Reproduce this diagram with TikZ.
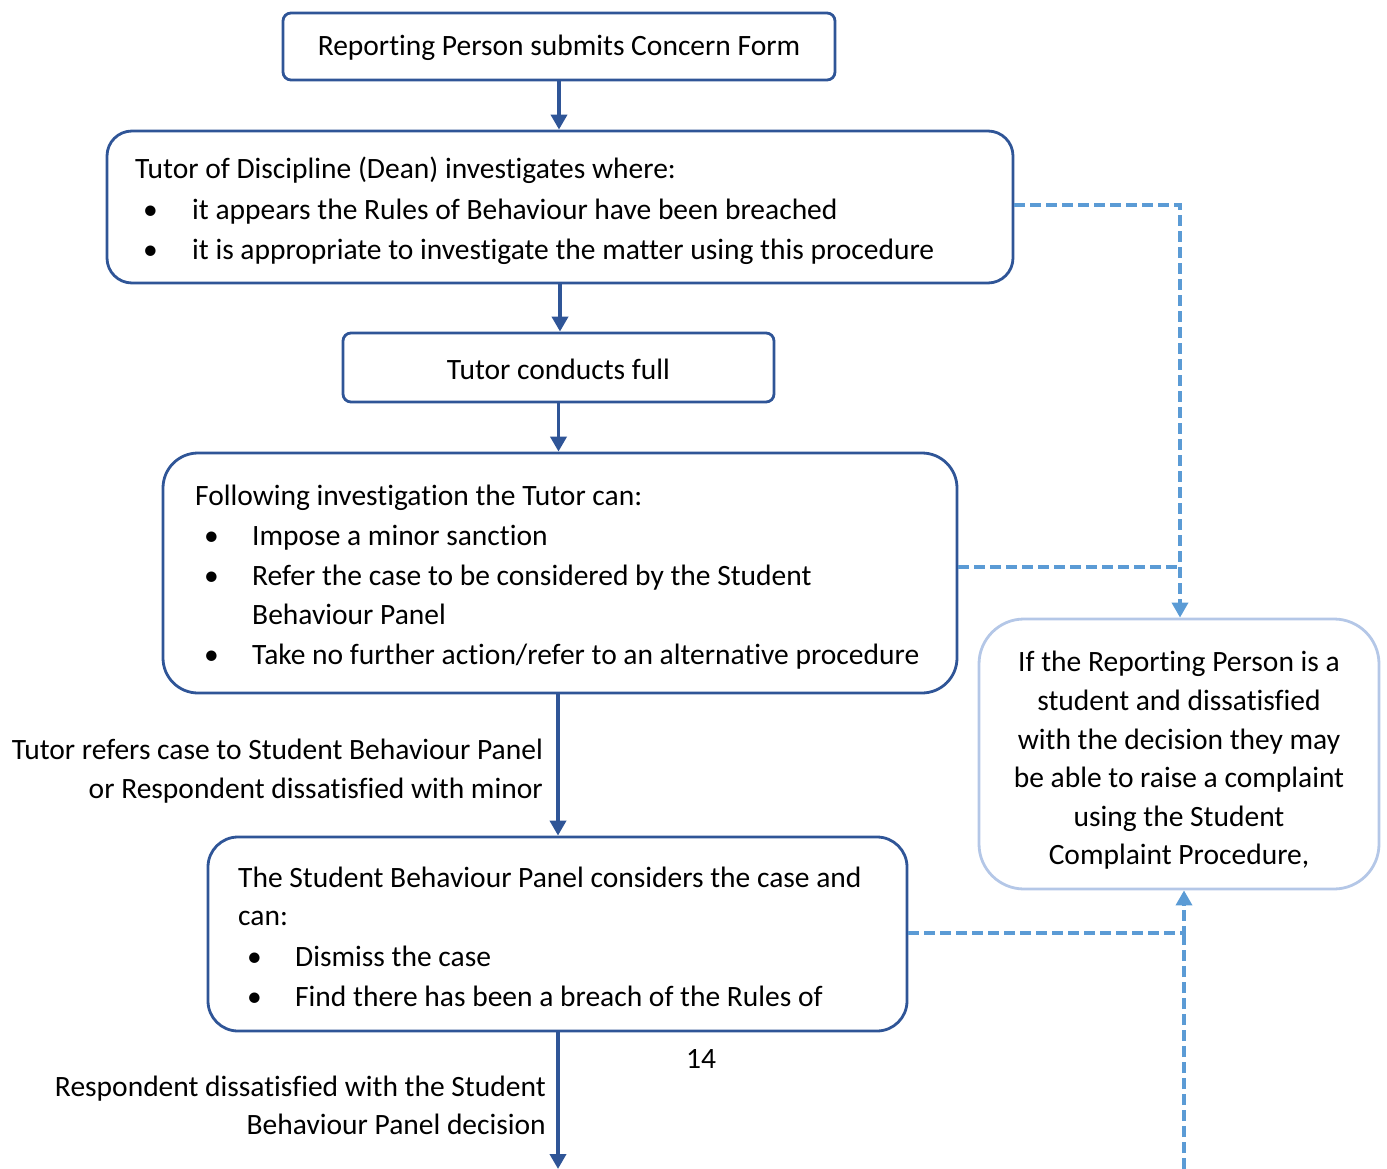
\documentclass[tikz,border=0pt]{standalone}
\usepackage{fontspec}
\setmainfont{Carlito}[Ligatures=NoCommon]
\usetikzlibrary{arrows.meta}
\definecolor{dkblue}{HTML}{2F5597}
\definecolor{dshblue}{HTML}{5B9BD5}
\definecolor{ltblue}{HTML}{B4C7E7}
\begin{document}
\begin{tikzpicture}[x=1pt,y=-1pt,
  every node/.style={font=\fontsize{29.5}{38.6}\selectfont},
  box/.style={draw=dkblue,line width=2.8pt,rounded corners=#1,inner sep=0pt},
  lbox/.style={draw=ltblue,line width=2.8pt,rounded corners=#1,inner sep=0pt},
  txt/.style={inner sep=0pt,anchor=base west},
  arr/.style={draw=dkblue,line width=3.8pt,-{Triangle[width=16pt,length=15pt]}},
  dsh/.style={draw=dshblue,line width=3.5pt,dash pattern=on 11pt off 5pt},
  dsharr/.style={dsh,-{Triangle[width=16pt,length=15pt]}}]
\useasboundingbox (0,0) rectangle (1387,1169);

% boxes
\node[box=8pt,minimum width=552pt,minimum height=67pt] (b1) at (559,46.5) {};
\node[box=25pt,minimum width=906pt,minimum height=152pt] (b2) at (560,207) {};
\node[box=8pt,minimum width=431pt,minimum height=69pt] (b3) at (558.5,367.5) {};
\node[box=35pt,minimum width=794pt,minimum height=240pt] (b4) at (560,573) {};
\node[box=30pt,minimum width=699pt,minimum height=194pt] (b5) at (557.5,934) {};
\node[lbox=45pt,minimum width=400pt,minimum height=270pt] (rb) at (1179,754) {};

% box 1 and 3 text
\node[inner sep=0pt] (t1) at (559,48) {Reporting Person submits Concern Form};
\node[inner sep=0pt] (t3) at (558.5,369) {Tutor conducts full};

% box 2 text
\node[txt] (t2a) at (135,178.5) {Tutor of Discipline (Dean) investigates where:};
\node[txt] (t2b) at (143,219.5) {\textbullet};
\node[txt] (t2c) at (192,219.5) {it appears the Rules of Behaviour have been breached};
\node[txt] (t2d) at (143,259.5) {\textbullet};
\node[txt] (t2e) at (192,259.5) {it is appropriate to investigate the matter using this procedure};

% box 4 text
\node[txt] (t4a) at (195,505.5) {Following investigation the Tutor can:};
\node[txt] (t4b) at (204,545.5) {\textbullet};
\node[txt] (t4c) at (252,545.5) {Impose a minor sanction};
\node[txt] (t4d) at (204,585.5) {\textbullet};
\node[txt] (t4e) at (252,585.5) {Refer the case to be considered by the Student};
\node[txt] (t4f) at (252,624.5) {Behaviour Panel};
\node[txt] (t4g) at (204,664.5) {\textbullet};
\node[txt] (t4h) at (252,664.5) {Take no further action/refer to an alternative procedure};

% box 5 text
\node[txt] (t5a) at (238,887.5) {The Student Behaviour Panel considers the case and};
\node[txt] (t5b) at (238,925.5) {can:};
\node[txt] (t5c) at (247,966.5) {\textbullet};
\node[txt] (t5d) at (295,966.5) {Dismiss the case};
\node[txt] (t5e) at (247,1006.5) {\textbullet};
\node[txt] (t5f) at (295,1006.5) {Find there has been a breach of the Rules of};

% right box text
\node[inner sep=0pt,align=center] (trb) at (1179,760.5) {If the Reporting Person is a\\student and dissatisfied\\with the decision they may\\be able to raise a complaint\\using the Student\\Complaint Procedure,};

% side labels
\node[inner sep=0pt,align=right,anchor=east] (l1) at (543,771) {Tutor refers case to Student Behaviour Panel\\or Respondent dissatisfied with minor};
\node[inner sep=0pt,align=right,anchor=east] (l2) at (546,1105.5) {Respondent dissatisfied with the Student\\Behaviour Panel decision};
\node[inner sep=0pt] (pg) at (701,1059) {14};

% solid arrows
\coordinate (bot) at (558,1169);
\draw[arr] (b1.south) -- (b1.south |- b2.north);
\draw[arr] (b2.south) -- (b2.south |- b3.north);
\draw[arr] (b3.south) -- (b3.south |- b4.north);
\draw[arr] (b4.south -| bot) -- (b5.north -| bot);
\draw[arr] (b5.south -| bot) -- (bot);

% dashed connectors
\coordinate (j2) at (1180,205);
\coordinate (j4) at (1180,567);
\coordinate (j5) at (1184,933);
\coordinate (bot2) at (1184,1169);
\draw[dsharr] (b2.east |- j2) -- (j2) -- (j2 |- rb.north);
\draw[dsh] (b4.east |- j4) -- (j4);
\draw[dsharr] (b5.east |- j5) -- (j5) -- (j5 |- rb.south);
\draw[dsh] (bot2) -- (j5);
\end{tikzpicture}
\end{document}
